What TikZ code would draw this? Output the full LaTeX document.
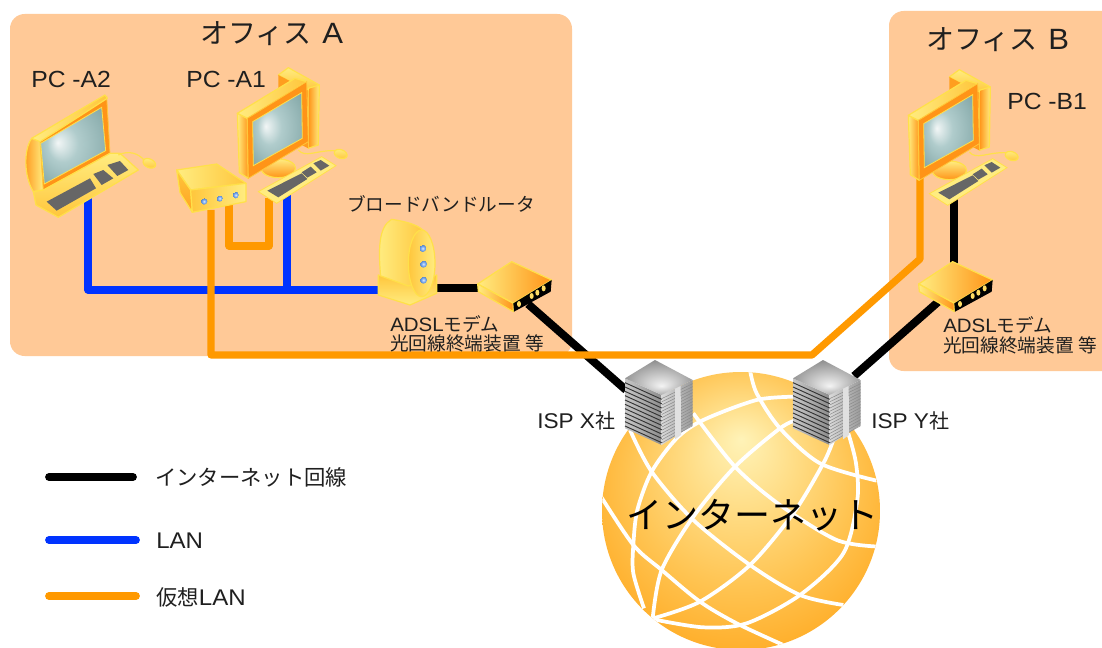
\documentclass[tikz,border=0pt]{standalone}
\usepackage{fontspec}
\setmainfont{Noto Sans CJK JP}
\newfontfamily\latf{Liberation Sans}[FakeStretch=1.06]
\newcommand{\LT}[2]{{\fontsize{#1}{#1}\latf #2}}
\definecolor{office}{HTML}{FFC997}
\definecolor{lanblue}{HTML}{0033FF}
\definecolor{vlan}{HTML}{FF9900}
\definecolor{edgey}{HTML}{FFE04A}
\definecolor{deep}{HTML}{FF9418}
\definecolor{midy}{HTML}{FFC63C}
\definecolor{paley}{HTML}{FFEC80}
\definecolor{keygrey}{HTML}{666666}
\definecolor{glA}{HTML}{FFF3B8}
\definecolor{glB}{HTML}{FFDC84}
\definecolor{glC}{HTML}{FFC452}
\definecolor{glD}{HTML}{FFAC26}
\definecolor{glE}{HTML}{FF9A10}
\pgfdeclareradialshading{globeshade}{\pgfpoint{0bp}{13bp}}{color(0bp)=(glA); color(10bp)=(glB); color(20bp)=(glC); color(30bp)=(glD); color(39bp)=(glE)}
\definecolor{scA}{HTML}{F2F6F6}
\definecolor{scB}{HTML}{B0CCCC}
\definecolor{scC}{HTML}{7FA4A4}
\pgfdeclareradialshading{screenshade}{\pgfpoint{-12bp}{2bp}}{color(0bp)=(scA); color(12bp)=(scB); color(36bp)=(scC)}
\definecolor{srA}{HTML}{F4F4F4}
\definecolor{srB}{HTML}{707070}
\pgfdeclareradialshading{servertop}{\pgfpoint{2bp}{-12bp}}{color(0bp)=(srA); color(36bp)=(srB)}
\definecolor{ledA}{HTML}{DDEBFF}
\definecolor{ledB}{HTML}{6FA4F0}
\pgfdeclareradialshading{ledshade}{\pgfpoint{0bp}{0bp}}{color(0bp)=(ledA); color(14bp)=(ledB); color(25bp)=(ledB!80!black)}
\tikzset{
  x=0.75pt,y=-0.75pt,
  wire/.style={line width=5.4pt,line join=round},
  inet/.style={wire,line width=6pt,draw=black},
  lan/.style={wire,draw=lanblue},
  vpn/.style={wire,draw=vlan},
  legendline/.style={line width=5.8pt,line cap=round},
  officebox/.style={fill=office,rounded corners=11pt},
  mapline/.style={draw=white,line width=2.8pt},
  body/.style={draw=edgey,line width=.9pt,line join=round},
  txt/.style={inner sep=0pt,anchor=west,text=black!88},
  mouseicon/.style={body,top color=paley,bottom color=midy},
  pics/desktop/.style={code={
    \shade[body,top color=paley,bottom color=midy] (835,225)--(865,203)--(958,255)--(925,272)--cycle;
    \shade[body,left color=deep,right color=paley] (925,265)--(958,255)--(955,435)--(925,445)--cycle;
    \fill[deep!80!midy] (835,225)--(925,272)--(925,445)--(835,400)--cycle;
    \shade[body,top color=paley,bottom color=deep] (835,505) ellipse [x radius=52,y radius=28];
    \draw[edgey,line width=.9pt] (895,450) .. controls (915,475) and (950,450) .. (1005,452);
    \shade[mouseicon] (1022,462) ellipse [x radius=20,y radius=13,rotate=-20];
    \shade[body,left color=paley,right color=deep] (712,340)--(742,355)--(745,535)--(718,518)--cycle;
    \shade[body,left color=paley,right color=midy] (712,340)--(885,235)--(920,245)--(742,355)--cycle;
    \fill[deep,draw=midy,line width=.6pt] (742,355)--(920,245)--(925,425)--(745,535)--cycle;
    \shade[shading=screenshade,draw=edgey,line width=.6pt] (758,365)--(905,278)--(907,415)--(760,497)--cycle;
    \fill[paley,draw=edgey,line width=.6pt] (775,575)--(965,470)--(1008,497)--(830,610)--cycle;
    \fill[keygrey] (802,572)--(905,520)--(922,537)--(835,592)--cycle;
    \fill[keygrey] (905,517)--(932,500)--(950,517)--(922,533)--cycle;
    \fill[keygrey] (940,490)--(962,480)--(988,497)--(962,512)--cycle;
  }},
  pics/laptop/.style={code={
    \shade[body,left color=deep,right color=paley] (95,415)..controls (70,450) and (72,530) .. (100,575)--(130,570)--(120,420)--cycle;
    \fill[deep,draw=midy,line width=.6pt] (120,420)--(320,290)--(330,460)--(130,570)--cycle;
    \shade[body,left color=paley,right color=midy] (95,415)--(315,285)--(322,295)--(120,425)--cycle;
    \shade[shading=screenshade,draw=edgey,line width=.6pt] (122,430)--(305,322)--(317,452)--(133,552)--cycle;
    \shade[body,top color=paley,bottom color=midy] (100,575)--(130,570)--(330,460)--(360,460)--(415,510)--(175,652)--(108,615)--cycle;
    \fill[keygrey] (140,605)--(270,535)--(288,565)--(170,632)--cycle;
    \fill[keygrey] (280,522)--(310,510)--(340,535)--(305,555)--cycle;
    \fill[keygrey] (322,495)--(360,483)--(385,510)--(352,528)--cycle;
    \draw[edgey,line width=.9pt] (355,465) .. controls (385,450) and (415,460) .. (432,480);
    \shade[mouseicon] (448,490) ellipse [x radius=20,y radius=13,rotate=-25];
  }},
  pics/hub/.style={code={
    \shade[body,left color=paley,right color=midy] (530,510)--(650,492)--(738,550)--(572,570)--cycle;
    \shade[body,top color=midy,bottom color=deep!70!midy] (530,510)--(572,570)--(577,637)--(540,578)--cycle;
    \shade[body,left color=midy,right color=paley] (572,570)--(738,550)--(738,605)--(577,637)--cycle;
    \foreach \lx/\ly in {612/604,659/595,707/585}
      \shade[shading=ledshade] (\lx,\ly) circle (10);
  }},
  pics/router/.style={code={
    \shade[body,left color=paley,right color=midy] (122,290)..controls (115,210) and (115,140) .. (155,118)..controls (200,125) and (240,135) .. (258,160)--(258,345)--(130,330)--cycle;
    \shade[body,top color=midy,bottom color=paley] (115,285)--(205,318)--(290,285)--(290,340)--(210,375)--(115,345)--cycle;
    \shade[body,left color=midy,right color=paley] (245,250) ellipse [x radius=40,y radius=100];
    \foreach \lx/\ly in {248/205,250/252,250/300}
      \shade[shading=ledshade] (\lx,\ly) circle (11);
  }},
  pics/modem/.style={code={
    \shade[body,left color=paley,right color=deep] (413,312)--(515,245)--(635,300)--(520,370)--cycle;
    \shade[body,left color=paley,right color=deep] (413,312)--(520,370)--(520,395)--(415,335)--cycle;
    \fill[black] (520,370)--(635,300)--(632,335)--(522,395)--cycle;
    \foreach \lx/\ly in {537/372,575/348,592/338,611/325}
      \fill[paley!60!midy] (\lx,\ly) ellipse [x radius=6,y radius=9];
  }},
  pics/serverbox/.style={code={
    \shade[left color=black!22,right color=black!45] (135,85)--(245,135)--(245,285)--(135,235)--cycle;
    \shade[left color=black!15,right color=black!40] (245,135)--(338,90)--(338,225)--(245,285)--cycle;
    \foreach \k in {0,...,10}
      \draw[black!80,line width=.7pt] (135,{98+\k*13})--(245,{148+\k*13});
    \foreach \k in {0,...,14}
      \draw[black!45,line width=.4pt] (245,{146+\k*9.5})--(338,{101+\k*9});
    \fill[black!12] (285,115)--(302,107)--(303,255)--(285,268)--cycle;
    \shade[shading=servertop] (225,30)--(338,90)--(245,135)--(135,85)--cycle;
  }}
}
\begin{document}
\begin{tikzpicture}
\useasboundingbox (0,0) rectangle (1102,648);
\fill[white] (0,0) rectangle (1102,648);
\path[officebox] (10,14) rectangle (572,356);
\begin{scope}
\clip (0,0) rectangle (1102,648);
\path[officebox] (889,11) rectangle (1125,371);
\shade[shading=globeshade] (741,511) circle (139);
\end{scope}
\begin{scope}
\clip (0,0) rectangle (1102,648);
\clip (741,511) circle (139);
\begin{scope}[shift={(580,350)},scale=0.33333]
\draw[mapline] plot[smooth] coordinates {(510,60) (530,130) (600,235) (720,340) (890,392)};
\draw[mapline] plot[smooth] coordinates {(150,240) (215,365) (340,510) (510,645) (660,735) (790,765)};
\draw[mapline] plot[smooth] coordinates {(340,190) (465,350) (600,465) (770,570) (900,590)};
\draw[mapline] plot[smooth] coordinates {(60,435) (160,585) (245,660) (360,755) (470,820) (610,885)};
\draw[mapline] plot[smooth] coordinates {(220,805) (360,755) (510,645) (640,490) (730,340) (760,270)};
\draw[mapline] plot[smooth] coordinates {(192,775) (160,670) (160,585) (172,480) (215,365) (290,265) (370,210) (530,150) (650,140)};
\draw[mapline] plot[smooth] coordinates {(218,805) (245,660) (340,500) (465,350) (600,235) (650,210)};
\draw[mapline] plot[smooth] coordinates {(805,250) (828,340) (832,450) (790,610) (660,735) (500,820) (370,832) (220,808)};
\end{scope}
\end{scope}
\coordinate (a2port) at (88,198);
\coordinate (a1port) at (287,195);
\coordinate (lanjoin) at (287,290);
\coordinate (lancorner) at (88,290);
\coordinate (routerlan) at (385,290);
\coordinate (routerwan) at (430,288);
\coordinate (modemAin) at (490,288);
\coordinate (modemAout) at (528,304);
\coordinate (ispX) at (626,390);
\coordinate (kbB) at (954,198);
\coordinate (modemBin) at (954,268);
\coordinate (modemBout) at (938,302);
\coordinate (ispY) at (854,376);
\coordinate (hubA) at (229,205);
\coordinate (uA) at (229,246);
\coordinate (uB) at (269,246);
\coordinate (kbA) at (269,198);
\coordinate (hubMain) at (211,210);
\coordinate (vA) at (211,355);
\coordinate (vB) at (812,355);
\coordinate (vC) at (920,259);
\coordinate (pcB) at (920,178);
\draw[inet] (routerwan) -- (modemAin);
\draw[inet] (modemAout) -- (ispX);
\draw[inet] (kbB) -- (modemBin);
\draw[inet] (modemBout) -- (ispY);
\draw[lan] (a2port) -- (lancorner) -- (routerlan);
\draw[lan] (a1port) -- (lanjoin);
\draw[vpn] (hubA) -- (uA) -- (uB) -- (kbA);
\draw[vpn] (hubMain) -- (vA) -- (vB) -- (vC) -- (pcB);
\pic[scale=0.33333] at (0,0) {laptop};
\pic[scale=0.33333] at (0,0) {desktop};
\pic[scale=0.33333] at (0,0) {hub};
\pic[scale=0.33333] at (671,2) {desktop};
\pic[scale=0.33333] at (340,180) {router};
\pic[scale=0.33333] at (340,180) {modem};
\pic[scale=0.33333] at (781,180) {modem};
\pic[scale=0.33333] at (580,350) {serverbox};
\pic[scale=0.33333] at (748,350) {serverbox};
\node[txt,font=\fontsize{21}{21}\selectfont] (tA) at (200,34) {オフィス\hspace{8pt}\LT{22}{A}};
\node[txt,font=\fontsize{21}{21}\selectfont] (tB) at (926,40) {オフィス\hspace{8pt}\LT{22}{B}};
\node[txt] (lA2) at (31,79) {\LT{17.5}{PC -A2}};
\node[txt] (lA1) at (186,79) {\LT{17.5}{PC -A1}};
\node[txt] (lB1) at (1007,101) {\LT{17.5}{PC -B1}};
\node[txt,font=\fontsize{14}{14}\selectfont] (lrt) at (347,204) {ブロードバンドルータ};
\node[txt,font=\fontsize{14}{14}\selectfont] (lm1) at (390,324) {\LT{14.5}{ADSL}モデム};
\node[txt,font=\fontsize{14}{14}\selectfont] (lm2) at (390,343) {光回線終端装置 等};
\node[txt,font=\fontsize{14}{14}\selectfont] (lm3) at (943,325) {\LT{14.5}{ADSL}モデム};
\node[txt,font=\fontsize{14}{14}\selectfont] (lm4) at (943,345) {光回線終端装置 等};
\node[txt,font=\fontsize{15}{15}\selectfont] (lx) at (537,421) {\LT{16}{ISP X}社};
\node[txt,font=\fontsize{15}{15}\selectfont] (ly) at (871,421) {\LT{16}{ISP Y}社};
\node[txt,anchor=center,text=black,font=\fontsize{27}{27}\selectfont] (lnet) at (752,515) {インターネット};
\coordinate (k1a) at (49,477); \coordinate (k1b) at (133,477);
\coordinate (k2a) at (49,540); \coordinate (k2b) at (136,540);
\coordinate (k3a) at (49,596); \coordinate (k3b) at (136,596);
\draw[legendline,black] (k1a) -- (k1b);
\draw[legendline,lanblue] (k2a) -- (k2b);
\draw[legendline,vlan] (k3a) -- (k3b);
\node[txt,font=\fontsize{16}{16}\selectfont] (k1) at (155,477) {インターネット回線};
\node[txt] (k2) at (156,541) {\LT{17}{LAN}};
\node[txt,font=\fontsize{16}{16}\selectfont] (k3) at (156,597) {仮想\LT{17}{LAN}};
\end{tikzpicture}
\end{document}
